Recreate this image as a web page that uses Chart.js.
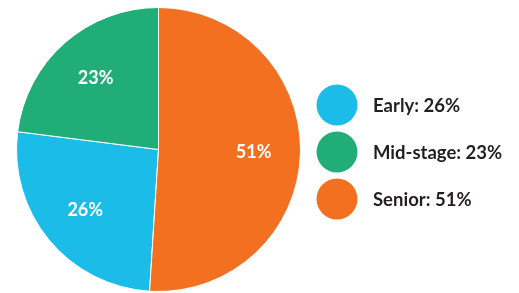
<!DOCTYPE html>
<html>
<head>
<meta charset="utf-8">
<script src="https://cdn.jsdelivr.net/npm/chart.js@4.4.0/dist/chart.umd.min.js"></script>
<style>
  html, body { margin: 0; padding: 0; background: #ffffff; }
  #wrap { width: 519px; height: 293px; position: relative; }
</style>
</head>
<body>
<div id="wrap"><canvas id="pie"></canvas></div>
<script>
const stages = ['Early', 'Mid-stage', 'Senior'];
const shares = [26, 23, 51];
const sliceColors = ['#1bbce8', '#20ad78', '#f37021'];

const FONT = 'Lato, "Open Sans", sans-serif';

// percentage labels inside each slice
const sliceLabels = {
  id: 'sliceLabels',
  afterDatasetsDraw(chart) {
    const ctx = chart.ctx;
    const meta = chart.getDatasetMeta(0);
    ctx.save();
    ctx.fillStyle = '#ffffff';
    ctx.font = 'bold 18px ' + FONT;
    ctx.textAlign = 'center';
    ctx.textBaseline = 'middle';
    meta.data.forEach((arc, i) => {
      const mid = (arc.startAngle + arc.endAngle) / 2;
      const r = arc.outerRadius * 0.67;
      ctx.fillText(shares[i] + '%', arc.x + Math.cos(mid) * r, arc.y + Math.sin(mid) * r);
    });
    ctx.restore();
  }
};

// big-dot legend on the right
const dotLegend = {
  id: 'dotLegend',
  afterDraw(chart) {
    const ctx = chart.ctx;
    ctx.save();
    ctx.font = 'bold 18.5px ' + FONT;
    ctx.textBaseline = 'middle';
    ctx.textAlign = 'left';
    stages.forEach((name, i) => {
      const y = 105 + i * 47;
      ctx.fillStyle = sliceColors[i];
      ctx.beginPath();
      ctx.arc(337, y, 20.5, 0, Math.PI * 2);
      ctx.fill();
      ctx.fillStyle = '#231f20';
      ctx.fillText(name + ': ' + shares[i] + '%', 373, y + 1);
    });
    ctx.restore();
  }
};

new Chart(document.getElementById('pie'), {
  type: 'pie',
  data: {
    labels: stages,
    datasets: [{
      data: shares,
      backgroundColor: sliceColors,
      borderColor: '#ffffff',
      borderWidth: 1
    }]
  },
  options: {
    responsive: true,
    maintainAspectRatio: false,
    animation: false,
    rotation: 183.6, // Senior starts at 12 o'clock
    layout: {
      padding: { left: 16, right: 218, top: 7, bottom: 1 }
    },
    plugins: {
      legend: { display: false },
      tooltip: { enabled: false }
    }
  },
  plugins: [sliceLabels, dotLegend]
});
</script>
</body>
</html>
